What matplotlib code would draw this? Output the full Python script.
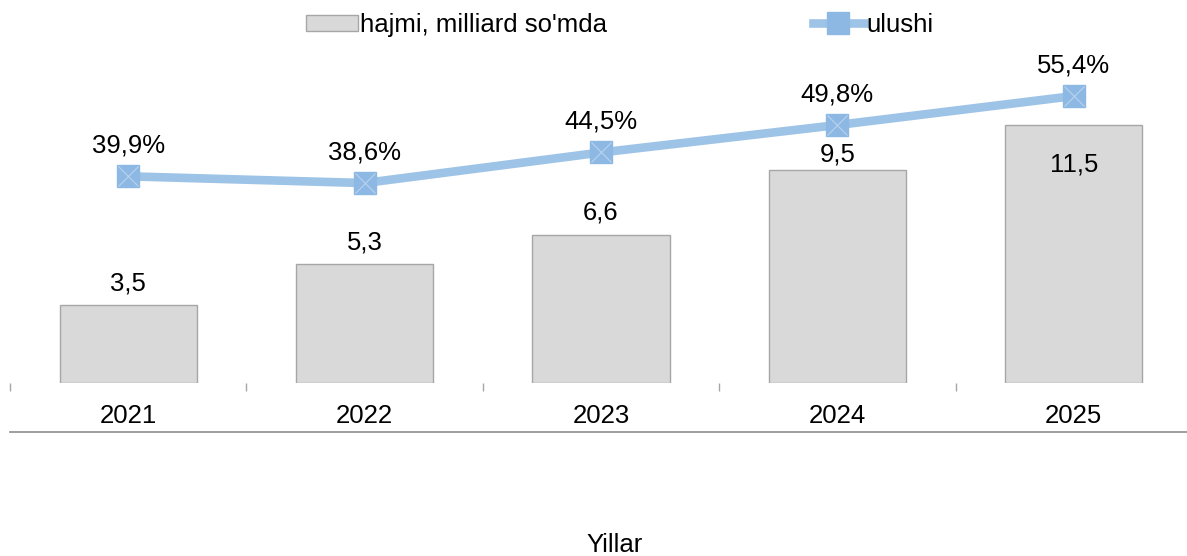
import matplotlib.pyplot as plt
from matplotlib.lines import Line2D
from matplotlib.patches import Patch

plt.rcParams['font.family'] = ['Liberation Sans', 'DejaVu Sans']

years = ['2021', '2022', '2023', '2024', '2025']
hajmi = [3.5, 5.3, 6.6, 9.5, 11.5]
ulushi = [39.9, 38.6, 44.5, 49.8, 55.4]
hajmi_labels = ['3,5', '5,3', '6,6', '9,5', '11,5']
ulushi_labels = ['39,9%', '38,6%', '44,5%', '49,8%', '55,4%']

W, H = 1187, 556
FS = 18.5
fig = plt.figure(figsize=(W / 100, H / 100), dpi=100)
# axes placed in pixel coordinates: left 10, right 1192, bottom y=383, top y=50
ax = fig.add_axes([10 / W, 1 - 383 / H, 1182 / W, 333 / H])
ax2 = ax.twinx()

x = list(range(len(years)))
ax.bar(x, hajmi, width=0.58, color='#D9D9D9', edgecolor='#A6A6A6', linewidth=1, zorder=2)
ax.set_xlim(-0.5, 4.5)
ax.set_ylim(0, 333 / 22.4)

# bar value labels (last one sits inside the bar)
bar_offsets = [15, 16, 16, 11, -28]
for xi, v, lab, off in zip(x, hajmi, hajmi_labels, bar_offsets):
    ax.annotate(lab, (xi, v), xytext=(0, off), textcoords='offset points',
                ha='center', va='center', fontsize=FS, color='black', zorder=5)

ax2.plot(x, ulushi, color='#9DC3E6', linewidth=6.2, solid_capstyle='round', zorder=3)
ax2.plot(x, ulushi, linestyle='none', marker='s', markersize=16,
         markerfacecolor='#8DB8E3', markeredgecolor='#8DB8E3', zorder=4)
ax2.plot(x, ulushi, linestyle='none', marker='x', markersize=15,
         markeredgecolor='#B7D3EE', markeredgewidth=0.8, zorder=5)
ax2.set_ylim(0, 333 / 5.18)
for xi, v, lab in zip(x, ulushi, ulushi_labels):
    ax2.annotate(lab, (xi, v), xytext=(0, 22), textcoords='offset points',
                 ha='center', va='center', fontsize=FS, color='black')

for a in (ax, ax2):
    for s in a.spines.values():
        s.set_visible(False)
    a.set_yticks([])

ax.set_xticks([-0.5, 0.5, 1.5, 2.5, 3.5], minor=True)
ax.tick_params(axis='x', which='minor', length=6, color='#A6A6A6', width=1)
ax.set_xticks(x)
ax.set_xticklabels(years, fontsize=FS)
ax.tick_params(axis='x', which='major', length=0, pad=15)

# separator line under year labels
fig.add_artist(Line2D([10 / W, 1], [1 - 432 / H, 1 - 432 / H], color='#8C8C8C', linewidth=1.2))

fig.text(615 / W, 1 - 545 / H, 'Yillar', ha='center', va='center', fontsize=FS)

handles = [Patch(facecolor='#D9D9D9', edgecolor='#A6A6A6', label="hajmi, milliard so'mda"),
           Line2D([], [], color='#9DC3E6', linewidth=6.2, marker='s', markersize=16,
                  markerfacecolor='#8DB8E3', markeredgecolor='#8DB8E3', label='ulushi')]
fig.legend(handles=handles, loc='center', bbox_to_anchor=(620 / W, 1 - 25 / H), ncol=2,
           frameon=False, fontsize=FS, columnspacing=8.0, handlelength=2.0, handletextpad=0.1,
           handleheight=0.6)

fig.savefig('out.png', dpi=100)
